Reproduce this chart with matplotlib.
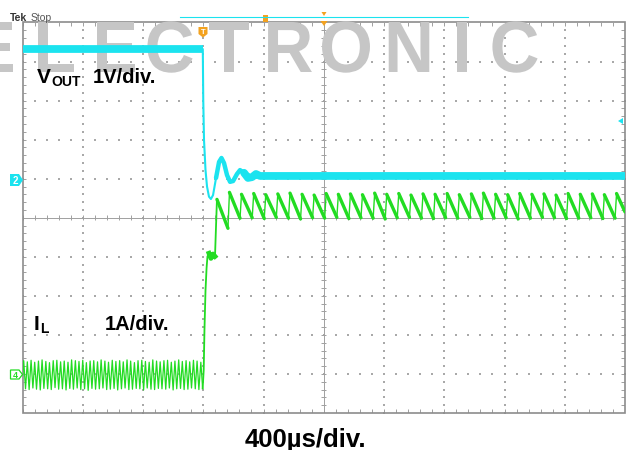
import numpy as np
import matplotlib
matplotlib.use("Agg")
import matplotlib.pyplot as plt
from matplotlib.collections import LineCollection
from matplotlib.textpath import TextPath
from matplotlib.patches import PathPatch, Polygon, Rectangle
from matplotlib.font_manager import FontProperties
from matplotlib.transforms import Affine2D

plt.rcParams['font.family'] = ['Liberation Sans', 'DejaVu Sans']

time_per_div_us = 400
n_xdiv, n_ydiv = 10, 10
ch2_offset_div = 1.0     # VOUT ground marker
ch4_offset_div = -4.0    # IL ground marker

# VOUT (1 V/div)
vout_t_us = [0, 1197, 1200, 1205, 1215, 1225, 1238, 1251, 1265, 1285, 1305, 1321,
             1338, 1358, 1378, 1398, 1424, 1444, 1471, 1497, 1524, 1550, 1577, 4000]
vout_v = [3.32, 3.32, 2.02, 1.00, 0.22, -0.20, -0.46, -0.52, -0.42, 0.02, 0.43, 0.53,
          0.40, 0.09, -0.08, -0.06, 0.12, 0.22, 0.15, 0.02, 0.04, 0.12, 0.07, 0.07]

# IL (1 A/div) - light-load ripple before the short
ripple_peak_t = [8, 32, 57, 81, 106, 130, 155, 179, 204, 228, 253, 277, 302, 326, 351, 375,
                 400, 424, 449, 473, 498, 522, 547, 571, 596, 620, 645, 669, 694, 718, 743,
                 767, 792, 816, 841, 865, 890, 914, 939, 963, 988, 1012, 1037, 1061, 1086,
                 1110, 1135, 1159, 1184]
ripple_peak_a = [0.34, 0.31, 0.35, 0.30, 0.33, 0.36, 0.32, 0.29, 0.34, 0.35,
                 0.31, 0.33, 0.30, 0.36, 0.34, 0.32, 0.35, 0.29, 0.33, 0.34,
                 0.31, 0.36, 0.33, 0.30, 0.35, 0.32, 0.34, 0.31, 0.36, 0.33,
                 0.29, 0.34, 0.35, 0.32, 0.30, 0.36, 0.33, 0.31, 0.34, 0.35,
                 0.30, 0.33, 0.36, 0.32, 0.34, 0.31, 0.35, 0.33, 0.30]
ripple_valley_t = [20, 44, 69, 93, 118, 142, 167, 191, 216, 240, 265, 289, 314, 338, 363,
                   387, 412, 436, 461, 485, 510, 534, 559, 583, 608, 632, 657, 681, 706,
                   730, 755, 779, 804, 828, 853, 877, 902, 926, 951, 975, 1000, 1024, 1049,
                   1073, 1098, 1122, 1147, 1171, 1196]
ripple_valley_a = [-0.38, -0.40, -0.36, -0.39, -0.41, -0.37, -0.38, -0.40, -0.35, -0.39,
                   -0.38, -0.41, -0.37, -0.39, -0.36, -0.40, -0.38, -0.42, -0.37, -0.39,
                   -0.38, -0.36, -0.40, -0.39, -0.37, -0.41, -0.38, -0.36, -0.40, -0.39,
                   -0.37, -0.38, -0.41, -0.36, -0.39, -0.40, -0.37, -0.38, -0.39, -0.36,
                   -0.41, -0.38, -0.37, -0.40, -0.39, -0.36, -0.38, -0.40, -0.37]
# IL step into current limit
step_t = [1203, 1208, 1215, 1222, 1228, 1238, 1251, 1265, 1278, 1285, 1291]
step_a = [0.10, 1.12, 2.14, 2.71, 3.01, 3.09, 2.96, 3.07, 3.01, 3.81, 4.47]
# IL current-limit sawtooth
tooth_rise_t = [1364, 1444, 1525, 1605, 1685, 1766, 1846, 1926, 2006, 2087,
                2167, 2247, 2328, 2408, 2488, 2569, 2649, 2729, 2809, 2890,
                2970, 3050, 3131, 3211, 3291, 3372, 3452, 3532, 3612, 3693,
                3773, 3853, 3934]
tooth_valley_a = [3.73, 3.99, 4.00, 3.98, 4.01, 3.99, 3.97, 4.00, 3.99, 4.01,
                  3.98, 4.00, 3.99, 3.97, 4.00, 4.01, 3.99, 3.98, 4.00, 3.99,
                  4.01, 3.98, 3.99, 4.00, 3.97, 3.99, 4.01, 4.00, 3.98, 3.99,
                  4.00, 3.98, 3.99]
tooth_peak_a = [4.65, 4.60, 4.62, 4.59, 4.61, 4.63, 4.60, 4.58, 4.62, 4.60,
                4.61, 4.59, 4.63, 4.60, 4.62, 4.58, 4.61, 4.60, 4.62, 4.59,
                4.61, 4.63, 4.60, 4.59, 4.62, 4.60, 4.61, 4.58, 4.62, 4.60,
                4.61, 4.59, 4.62]
tooth_rise_us = 10
il_end_t, il_end_a = 4000, 4.15

wm_letters = list("ELECTRONIC")
wm_centers = [-6, 56, 116, 170, 229, 290, 346, 409, 462, 515]

vout_label = ("V", "OUT", "1V/div.")
il_label = ("I", "L", "1A/div.")
time_label = "400µs/div."

# ---------------- figure ----------------
W, H = 629, 450
CYAN = '#1be3ef'
GREEN = '#22dc22'
ORANGE = '#f3a21f'
GRAYF = '#8c8c8c'
fig = plt.figure(figsize=(W / 100, H / 100), dpi=100)
fig.patch.set_facecolor('white')

L, R, T, B = 22.5, 625.0, 22.5, 413.0
ax = fig.add_axes([L / W, (H - B) / H, (R - L) / W, (B - T) / H])
xmax = n_xdiv * time_per_div_us
ax.set_xlim(0, xmax)
ax.set_ylim(-n_ydiv / 2, n_ydiv / 2)
ax.axis('off')

# overlay in pixel coordinates
ov = fig.add_axes([0, 0, 1, 1], zorder=5)
ov.set_xlim(0, W)
ov.set_ylim(H, 0)
ov.axis('off')
ov.patch.set_visible(False)

# grid dots
gx, gy = [], []
for k in range(1, n_xdiv):
    if k == n_xdiv // 2:
        continue
    ys = np.arange(-n_ydiv / 2, n_ydiv / 2 + 1e-9, 0.2)
    gx += [k * time_per_div_us] * len(ys)
    gy += list(ys)
for j in range(-n_ydiv // 2 + 1, n_ydiv // 2):
    if j == 0:
        continue
    xs = np.arange(0, xmax + 1e-9, time_per_div_us / 5)
    gx += list(xs)
    gy += [j] * len(xs)
ax.scatter(gx, gy, s=1.3, marker='s', color='#a9a9a9', linewidths=0, zorder=1)

# center cross with ticks
segs = [[(0, 0), (xmax, 0)], [(xmax / 2, -5), (xmax / 2, 5)]]
for xv in np.arange(0, xmax + 1e-9, time_per_div_us / 5):
    segs.append([(xv, -0.07), (xv, 0.07)])
for yv in np.arange(-5, 5 + 1e-9, 0.2):
    segs.append([(xmax / 2 - 18, yv), (xmax / 2 + 18, yv)])
# border ticks
for xv in np.arange(0, xmax + 1e-9, time_per_div_us / 5):
    segs.append([(xv, 5), (xv, 4.9)])
    segs.append([(xv, -5), (xv, -4.9)])
for yv in np.arange(-5, 5 + 1e-9, 0.2):
    segs.append([(0, yv), (26, yv)])
    segs.append([(xmax, yv), (xmax - 26, yv)])
ax.add_collection(LineCollection(segs, colors='#a0a0a0', linewidths=0.7, zorder=1.2))
ax.add_patch(Rectangle((0, -5), xmax, 10, fill=False, ec=GRAYF, lw=1.2,
                       clip_on=False, zorder=1.3))

# watermark
fp = FontProperties(family='Liberation Sans', weight='bold')
refp = TextPath((0, 0), 'E', size=100, prop=fp)
cap = refp.get_extents().height
s = 50.0 / cap
for ch, cx in zip(wm_letters, wm_centers):
    p = TextPath((0, 0), ch, size=100, prop=fp)
    e = p.get_extents()
    tr = Affine2D().translate(-(e.x0 + e.x1) / 2, 0).scale(s * 0.95, -s).translate(cx, 72)
    ax.add_patch(PathPatch(p, transform=tr + ov.transData, fc='#c6c6c6', ec='none',
                           clip_on=False, zorder=1.5))

# VOUT
vt = np.array(vout_t_us, float)
vy = np.array(vout_v, float) + ch2_offset_div
ax.plot(vt, vy, color=CYAN, lw=1.5, zorder=3, solid_joinstyle='round')
m1 = vt <= 1197
ax.plot(vt[m1], vy[m1], color=CYAN, lw=5.6, zorder=3, solid_capstyle='butt')
m2 = (vt >= 1285) & (vt <= 1524)
ax.plot(vt[m2], vy[m2], color=CYAN, lw=3.2, zorder=3, solid_capstyle='round')
m3 = vt >= 1471
ax.plot(vt[m3], vy[m3], color=CYAN, lw=5.6, zorder=3, solid_capstyle='round')

# IL
rt, ra = [0], [-0.05]
for pt, pa, vt_, va in zip(ripple_peak_t, ripple_peak_a, ripple_valley_t, ripple_valley_a):
    rt += [pt, vt_]
    ra += [pa, va]
ax.plot(rt, np.array(ra) + ch4_offset_div, color=GREEN, lw=0.9, zorder=3)
st = [rt[-1]] + step_t
sa = [ra[-1]] + step_a
ax.plot(st, np.array(sa) + ch4_offset_div, color=GREEN, lw=1.3, zorder=3)
ax.plot(step_t[5:9], np.array(step_a[5:9]) + ch4_offset_div, color=GREEN, lw=3.5, zorder=3)
tt, ta = [step_t[-1]], [step_a[-1]]
for rtime, va, pa in zip(tooth_rise_t, tooth_valley_a, tooth_peak_a):
    tt += [rtime, rtime + tooth_rise_us]
    ta += [va, pa]
tt.append(il_end_t)
ta.append(il_end_a)
ty = np.array(ta) + ch4_offset_div
tsegs, twid = [], []
for i in range(len(tt) - 1):
    tsegs.append([(tt[i], ty[i]), (tt[i + 1], ty[i + 1])])
    twid.append(1.0 if ty[i + 1] > ty[i] else 2.4)
ax.add_collection(LineCollection(tsegs, colors=GREEN, linewidths=twid, zorder=3,
                                 capstyle='round'))

# ---------------- annotations (pixel coords) ----------------
ov.text(10, 21, 'Tek', fontsize=7.5, weight='bold', color='#333333', va='baseline')
ov.text(31, 21, 'Stop', fontsize=7.5, color='#555555', va='baseline')
ov.plot([180, 468], [17, 17], color=CYAN, lw=0.8)
ov.add_patch(Rectangle((262.5, 14.5), 5, 7, fc=ORANGE, ec='none'))
ov.add_patch(Polygon([(321.5, 12), (326.5, 12), (324, 16)], fc=ORANGE, ec='none'))
ov.add_patch(Polygon([(320.5, 21), (327.5, 21), (324, 26)], fc=ORANGE, ec='none'))
ov.add_patch(Polygon([(198.5, 27), (207.5, 27), (207.5, 34), (203, 37.5), (198.5, 34)],
                     fc=ORANGE, ec='none'))
ov.text(203, 34, 'T', fontsize=5.5, color='white', weight='bold', ha='center', va='baseline')
ov.add_patch(Polygon([(618, 121), (623, 118), (623, 124)], fc=CYAN, ec='none'))
ov.add_patch(Polygon([(10, 174), (19, 174), (23, 180), (19, 186), (10, 186)], fc=CYAN, ec='none'))
ov.text(15.5, 183.5, '2', fontsize=7, color='white', weight='bold', ha='center', va='baseline')
ov.add_patch(Polygon([(10.5, 370), (19, 370), (22.5, 374.5), (19, 379), (10.5, 379)],
                     fc='white', ec=GREEN, lw=0.9))
ov.text(15.5, 377.5, '4', fontsize=6.5, color=GREEN, weight='bold', ha='center', va='baseline')

ov.text(37, 83, vout_label[0], fontsize=15, weight='bold', va='baseline')
ov.text(51.5, 86, vout_label[1], fontsize=10, weight='bold', va='baseline')
ov.text(93, 83, vout_label[2], fontsize=14.5, weight='bold', va='baseline')
ov.text(34, 330, il_label[0], fontsize=15, weight='bold', va='baseline')
ov.text(40.5, 333, il_label[1], fontsize=10, weight='bold', va='baseline')
ov.text(105, 330, il_label[2], fontsize=14.5, weight='bold', va='baseline')
ov.text(305, 446.5, time_label, fontsize=18.5, weight='bold', ha='center', va='baseline')

fig.savefig('out.png', dpi=100, facecolor='white')
